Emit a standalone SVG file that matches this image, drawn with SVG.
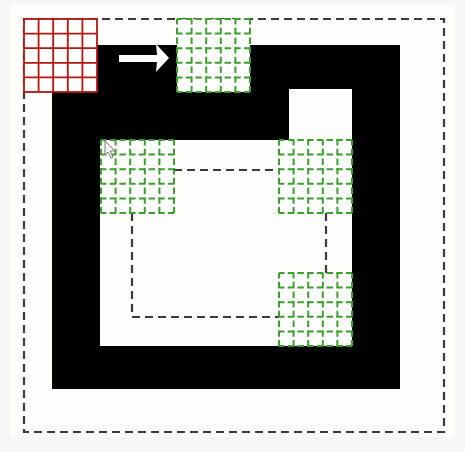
<svg xmlns="http://www.w3.org/2000/svg" width="465" height="452" viewBox="0 0 465 452">
<defs>
<style>
.bd{fill:none;stroke:#3a3a3a;stroke-width:2.2;stroke-dasharray:8 5}
.red{fill:none;stroke:#b5160f;stroke-width:1.8}
.grn{fill:none;stroke:#3c9e2c;stroke-width:2;stroke-dasharray:6.5 3.2;stroke-dashoffset:1}
</style>
<g id="redcell">
<rect x="0" y="0" width="73" height="73" fill="#fff"/>
<rect class="red" x="0" y="0" width="73" height="73"/>
<path class="red" d="M14.6 0V73M29.2 0V73M43.8 0V73M58.4 0V73M0 14.6H73M0 29.2H73M0 43.8H73M0 58.4H73"/>
</g>
<g id="gcell">
<rect x="0" y="0" width="73" height="73" fill="#fff"/>
<path class="grn" d="M0 0H73M0 14.6H73M0 29.2H73M0 43.8H73M0 58.4H73M0 73H73M0 0V73M14.6 0V73M29.2 0V73M43.8 0V73M58.4 0V73M73 0V73"/>
</g>
</defs>
<rect x="0" y="0" width="465" height="452" fill="#f6f6f6"/>
<rect x="10" y="5" width="445" height="432" fill="#fdfdfc"/>
<g id="outer-boundary">
<rect class="bd" x="24" y="19" width="420" height="413"/>
</g>
<g id="wall">
<path fill="#000" fill-rule="evenodd" d="M52 45H400V389H52Z M100 140H352V346H100Z M289 89H352V140H289Z"/>
</g>
<g id="connectors">
<path class="bd" d="M174 170H279M132 213V317H279M326 213V273"/>
</g>
<g id="arrow">
<polygon fill="#fff" points="119,55 157,55 156,44 169,58 156,72 157,62 119,62"/>
</g>
<g id="robot"><use href="#redcell" x="24" y="19"/></g>
<g id="cell-top"><use href="#gcell" x="177" y="19"/></g>
<g id="cell-left"><use href="#gcell" x="101" y="140"/></g>
<g id="cell-right"><use href="#gcell" x="279" y="140"/></g>
<g id="cell-bottom"><use href="#gcell" x="279" y="273"/></g>
<g id="cursor">
<polygon points="105,141 105,155 108,152 111,158 113,157 110,151 115,151" fill="#fff" stroke="#777" stroke-width="1"/>
</g>
</svg>
